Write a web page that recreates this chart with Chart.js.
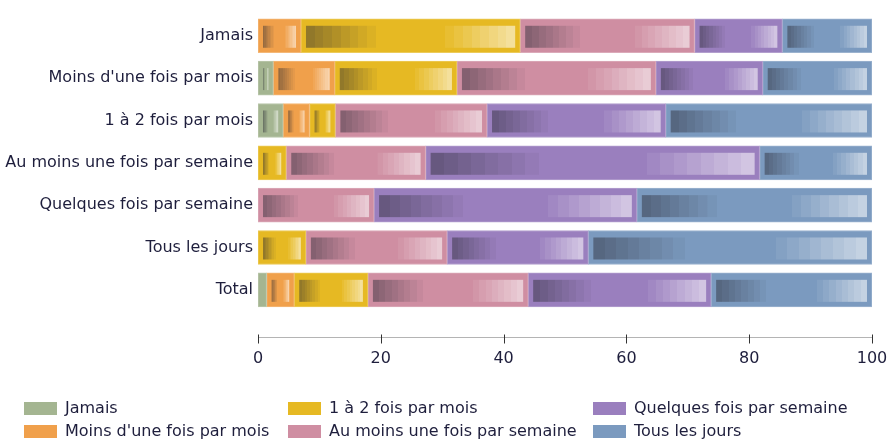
<!DOCTYPE html>
<html lang="fr">
<head>
<meta charset="utf-8">
<title>Fréquence</title>
<script src="https://cdn.jsdelivr.net/npm/chart.js@4.4.1/dist/chart.umd.min.js"></script>
<style>
  html, body { margin: 0; padding: 0; background: #fff; }
  #wrap { width: 891px; height: 448px; position: relative; }
</style>
</head>
<body>
<div id="wrap"><canvas id="freqChart"></canvas></div>
<script>
// categories (rows) and series, in percent
var categories = [
  "Jamais",
  "Moins d'une fois par mois",
  "1 à 2 fois par mois",
  "Au moins une fois par semaine",
  "Quelques fois par semaine",
  "Tous les jours",
  "Total"
];
var seriesNames = [
  "Jamais",
  "Moins d'une fois par mois",
  "1 à 2 fois par mois",
  "Au moins une fois par semaine",
  "Quelques fois par semaine",
  "Tous les jours"
];
var jamais       = [0, 2.5, 4.1, 0, 0, 0, 1.4];
var moinsUneFois = [7.0, 10.0, 4.3, 0, 0, 0, 4.5];
var unADeuxFois  = [35.7, 19.9, 4.2, 4.6, 0, 7.8, 12.0];
var auMoinsSem   = [28.4, 32.4, 24.7, 22.7, 18.9, 23.0, 26.1];
var quelquesSem  = [14.3, 17.4, 29.1, 54.4, 42.8, 23.0, 29.8];
var tousLesJours = [14.6, 17.8, 33.6, 18.3, 38.3, 46.2, 26.2];
var xTicks = [0, 20, 40, 60, 80, 100];

var seriesValues = [jamais, moinsUneFois, unADeuxFois, auMoinsSem, quelquesSem, tousLesJours];
var colors = ["#a4b591", "#f0a04b", "#e6b923", "#cf8ea2", "#9a7fbe", "#7b9abf"];

var FONT = "'DejaVu Sans', Verdana, sans-serif";
var TEXT = "#1e1e3c";

function hexRgb(h) {
  return [parseInt(h.substr(1, 2), 16), parseInt(h.substr(3, 2), 16), parseInt(h.substr(5, 2), 16)];
}
function mix(a, b, t) {
  return [0, 1, 2].map(function (i) { return Math.round(a[i] + (b[i] - a[i]) * t); });
}
function css(c) { return "rgb(" + c.join(",") + ")"; }

// banded gradient: dark -> base over first third, base -> light over last third
function bandedGradient(ctx, x0, x1, hex) {
  var base = hexRgb(hex);
  var dark = mix(base, [40, 40, 50], 0.45);
  var light = mix(base, [255, 255, 255], 0.55);
  var g = ctx.createLinearGradient(x0, 0, x1, 0);
  var n = 8;
  for (var k = 0; k < n; k++) {
    var c1 = css(mix(dark, base, k / n));
    g.addColorStop((k / n) / 3, c1);
    g.addColorStop(((k + 1) / n) / 3 - 0.0001, c1);
  }
  g.addColorStop(1 / 3, css(base));
  g.addColorStop(2 / 3, css(base));
  for (var j = 0; j < n; j++) {
    var c2 = css(mix(base, light, (j + 1) / n));
    g.addColorStop(2 / 3 + (j / n) / 3 + 0.0001, c2);
    g.addColorStop(2 / 3 + ((j + 1) / n) / 3, c2);
  }
  return g;
}

var insetPlugin = {
  id: "insets",
  afterDatasetsDraw: function (chart) {
    var ctx = chart.ctx;
    chart.data.datasets.forEach(function (ds, i) {
      var meta = chart.getDatasetMeta(i);
      meta.data.forEach(function (bar) {
        var p = bar.getProps(["x", "y", "base", "height"], true);
        var left = Math.min(p.x, p.base) + 5;
        var right = Math.max(p.x, p.base) - 5;
        if (right - left < 3) return;
        var top = p.y - p.height / 2 + 7;
        var bottom = p.y + p.height / 2 - 5;
        ctx.save();
        ctx.fillStyle = bandedGradient(ctx, left, right, colors[i]);
        ctx.fillRect(left, top, right - left, bottom - top);
        ctx.restore();
      });
    });
  }
};

// x axis line with tick marks, set a little below the bars
var axisPlugin = {
  id: "axisLine",
  afterDraw: function (chart) {
    var ctx = chart.ctx;
    var xs = chart.scales.x;
    var yLine = chart.chartArea.bottom + 26.5;
    ctx.save();
    ctx.strokeStyle = "#b4b4b4";
    ctx.lineWidth = 1;
    ctx.beginPath();
    ctx.moveTo(xs.left, yLine);
    ctx.lineTo(xs.right, yLine);
    ctx.stroke();
    ctx.strokeStyle = "#333";
    xs.ticks.forEach(function (t) {
      var px = Math.round(xs.getPixelForValue(t.value)) + 0.5;
      ctx.beginPath();
      ctx.moveTo(px, yLine - 3);
      ctx.lineTo(px, yLine + 6);
      ctx.stroke();
    });
    ctx.restore();
  }
};

// legend in three columns, filled column by column
var legendPlugin = {
  id: "colLegend",
  afterDraw: function (chart) {
    var ctx = chart.ctx;
    var cols = [24, 288, 593];
    var rows = [402, 425];
    ctx.save();
    ctx.font = "16px " + FONT;
    ctx.textBaseline = "middle";
    chart.data.datasets.forEach(function (ds, i) {
      var cx = cols[Math.floor(i / 2)];
      var cy = rows[i % 2];
      ctx.fillStyle = ds.backgroundColor;
      ctx.fillRect(cx, cy, 33, 13);
      ctx.fillStyle = TEXT;
      ctx.fillText(ds.label, cx + 41, cy + 7);
    });
    ctx.restore();
  }
};

var datasets = seriesNames.map(function (name, i) {
  return {
    label: name,
    data: seriesValues[i],
    backgroundColor: colors[i],
    borderColor: css(mix(hexRgb(colors[i]), [255, 255, 255], 0.25)),
    borderWidth: 1,
    borderSkipped: false,
    barThickness: 34
  };
});

var ctx = document.getElementById("freqChart").getContext("2d");
new Chart(ctx, {
  type: "bar",
  data: { labels: categories, datasets: datasets },
  plugins: [insetPlugin, axisPlugin, legendPlugin],
  options: {
    indexAxis: "y",
    responsive: true,
    maintainAspectRatio: false,
    animation: false,
    layout: { padding: { top: 3, right: 19, bottom: 0, left: 0 } },
    plugins: {
      legend: { display: false },
      tooltip: { enabled: false }
    },
    scales: {
      x: {
        stacked: true,
        min: 0,
        max: 100,
        afterBuildTicks: function (s) {
          s.ticks = xTicks.map(function (v) { return { value: v }; });
        },
        afterFit: function (s) {
          s.height = 137;
          s.paddingLeft = 0;
          s.paddingRight = 0;
        },
        grid: { display: false, drawTicks: false },
        border: { display: false },
        ticks: {
          padding: 38,
          color: TEXT,
          font: { family: FONT, size: 16 },
          maxRotation: 0
        }
      },
      y: {
        stacked: true,
        afterFit: function (s) { s.width = 258; },
        grid: { display: false, drawTicks: false },
        border: { display: false },
        ticks: {
          padding: 5,
          color: TEXT,
          font: { family: FONT, size: 16 }
        }
      }
    }
  }
});
</script>
</body>
</html>
